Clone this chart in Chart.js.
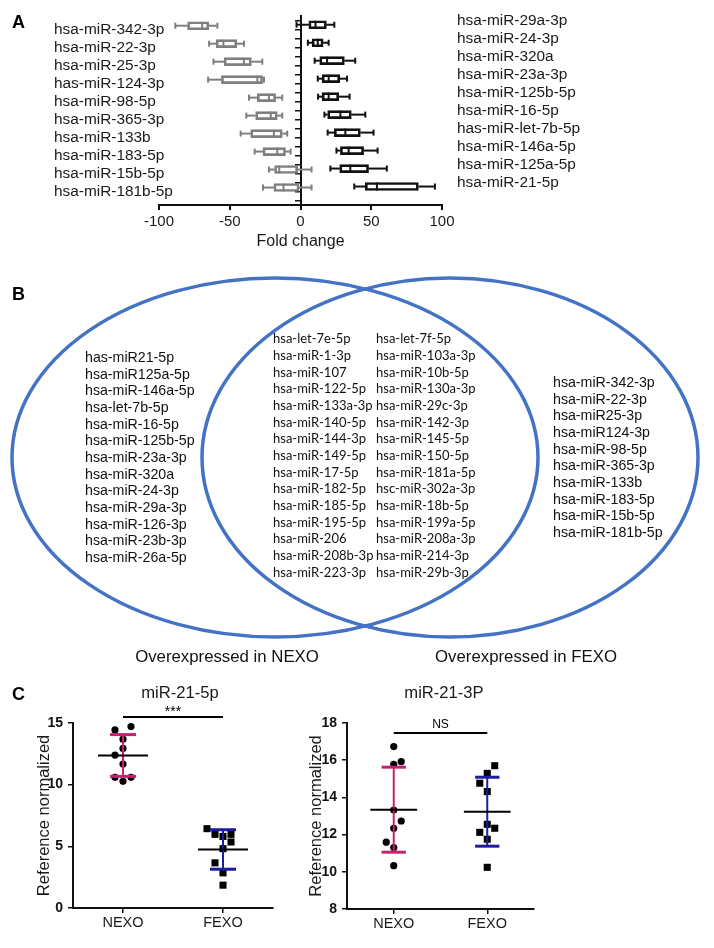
<!DOCTYPE html>
<html>
<head>
<meta charset="utf-8">
<title>miRNA fold change, overlap and validation</title>
<script src="https://cdn.jsdelivr.net/npm/chart.js@4.4.1/dist/chart.umd.min.js"></script>
<style>
  html, body { margin: 0; padding: 0; background: #fff; }
  body { position: relative; width: 714px; height: 948px; overflow: hidden; font-family: "Liberation Sans", Arial, sans-serif; }
  canvas { position: absolute; }
  .panel { position: absolute; left: 12px; font-size: 18px; font-weight: bold; line-height: 18px; color: #000; }
</style>
</head>
<body>
<canvas id="foldChart" width="714" height="252" style="left:0;top:0"></canvas>
<canvas id="vennChart" width="714" height="420" style="left:0;top:250px"></canvas>
<canvas id="mir5pChart" width="360" height="278" style="left:0;top:670px"></canvas>
<canvas id="mir3pChart" width="288" height="278" style="left:300px;top:670px"></canvas>
<div class="panel" style="top:13px">A</div>
<div class="panel" style="top:285px">B</div>
<div class="panel" style="top:685px">C</div>
<script>
// ---- A: fold change (box = q1..q3, whiskers = min..max)
var downNames = ["hsa-miR-342-3p", "hsa-miR-22-3p", "hsa-miR-25-3p", "has-miR-124-3p", "hsa-miR-98-5p",
                 "hsa-miR-365-3p", "hsa-miR-133b", "hsa-miR-183-5p", "hsa-miR-15b-5p", "hsa-miR-181b-5p"];
var downMin = [-88.5, -64.6, -61.5, -65.3, -36.4, -38.3, -42.3, -32.4, -22.3, -26.5];
var downQ1  = [-79.8, -59.6, -54.0, -55.9, -30.5, -31.7, -35.2, -26.5, -18.3, -18.8];
var downMed = [-69.5, -54.5, -40.0, -30.5, -22.3, -21.0, -18.8, -16.4, -15.0, -12.0];
var downQ3  = [-64.8, -45.0, -34.7, -26.8, -17.6, -16.4, -12.9, -10.6, -2.0, -1.0];
var downMax = [-58.7, -39.9, -27.0, -25.8, -12.9, -12.9, -9.4, -7.0, 7.8, 7.8];

var upNames = ["hsa-miR-29a-3p", "hsa-miR-24-3p", "hsa-miR-320a", "hsa-miR-23a-3p", "hsa-miR-125b-5p",
               "hsa-miR-16-5p", "has-miR-let-7b-5p", "hsa-miR-146a-5p", "hsa-miR-125a-5p", "hsa-miR-21-5p"];
var upMin = [-2.8, 5.2, 10.0, 12.2, 12.4, 16.9, 19.2, 25.4, 21.1, 38.0];
var upQ1  = [5.9, 8.2, 13.6, 15.3, 15.3, 19.2, 23.9, 28.2, 27.7, 45.8];
var upMed = [10.6, 12.2, 18.8, 19.9, 19.9, 28.2, 31.7, 34.0, 35.2, 54.0];
var upQ3  = [18.3, 16.0, 31.0, 27.7, 27.0, 35.9, 42.3, 44.6, 48.1, 83.3];
var upMax = [23.9, 19.9, 38.7, 32.9, 34.7, 45.8, 51.6, 54.5, 61.0, 95.0];

var foldTicks = [-100, -50, 0, 50, 100];

// ---- B: Venn lists
var nexoOnly = ["has-miR21-5p", "hsa-miR125a-5p", "hsa-miR-146a-5p", "hsa-let-7b-5p", "hsa-miR-16-5p",
                "hsa-miR-125b-5p", "hsa-miR-23a-3p", "hsa-miR-320a", "hsa-miR-24-3p", "hsa-miR-29a-3p",
                "hsa-miR-126-3p", "hsa-miR-23b-3p", "hsa-miR-26a-5p"];
var sharedA = ["hsa-let-7e-5p", "hsa-miR-1-3p", "hsa-miR-107", "hsa-miR-122-5p", "hsa-miR-133a-3p",
               "hsa-miR-140-5p", "hsa-miR-144-3p", "hsa-miR-149-5p", "hsa-miR-17-5p", "hsa-miR-182-5p",
               "hsa-miR-185-5p", "hsa-miR-195-5p", "hsa-miR-206", "hsa-miR-208b-3p", "hsa-miR-223-3p"];
var sharedB = ["hsa-let-7f-5p", "hsa-miR-103a-3p", "hsa-miR-10b-5p", "hsa-miR-130a-3p", "hsa-miR-29c-3p",
               "hsa-miR-142-3p", "hsa-miR-145-5p", "hsa-miR-150-5p", "hsa-miR-181a-5p", "hsc-miR-302a-3p",
               "hsa-miR-18b-5p", "hsa-miR-199a-5p", "hsa-miR-208a-3p", "hsa-miR-214-3p", "hsa-miR-29b-3p"];
var fexoOnly = ["hsa-miR-342-3p", "hsa-miR-22-3p", "hsa-miR25-3p", "hsa-miR124-3p", "hsa-miR-98-5p",
                "hsa-miR-365-3p", "hsa-miR-133b", "hsa-miR-183-5p", "hsa-miR-15b-5p", "hsa-miR-181b-5p"];

// ---- C: qPCR validation, one value per sample (lane = horizontal jitter slot)
var groupNames = ["NEXO", "FEXO"];
var nexo5p = [14.43, 14.70, 13.68, 12.93, 12.39, 11.67, 10.59, 10.27, 10.59];
var nexo5pLanes = [-1, 1, 0, 0, -1, 0, -1, 0, 1];
var fexo5p = [6.43, 5.97, 5.80, 5.97, 5.35, 4.81, 3.66, 2.85, 1.85];
var fexo5pLanes = [-2, -1, 0, 1, 1, 0, -1, 0, 0];
var nexo3p = [16.73, 15.78, 15.92, 13.32, 12.73, 12.34, 11.59, 11.30, 10.33];
var nexo3pLanes = [0, 0, 1, 0, 1, 0, -1, 0, 0];
var fexo3p = [15.70, 15.29, 14.76, 14.31, 12.55, 12.12, 12.34, 11.75, 10.24];
var fexo3pLanes = [1, 0, -1, 0, 0, -1, 1, 0, 0];

var FONT = '"Liberation Sans", Arial, sans-serif';
Chart.defaults.font.family = FONT;
Chart.defaults.color = "#1a1a1a";

var grey = "#7f7f7f";
var pink = "#c8206f";
var navy = "#1c1c9c";

// rows alternate: up-regulated on even slots, down-regulated on odd slots, one spare slot at the end
var rowCount = 21;
function rows(fill, start) {
  var out = [];
  for (var i = 0; i < rowCount; i++) out.push(null);
  for (var k = 0; k < 10; k++) out[start + 2 * k] = fill(k);
  return out;
}
function rowLabels(names, start) {
  return rows(function (k) { return names[k]; }, start).map(function (v) { return v == null ? "" : v; });
}

function line(ctx, x1, y1, x2, y2) {
  ctx.beginPath();
  ctx.moveTo(x1, y1);
  ctx.lineTo(x2, y2);
  ctx.stroke();
}

var whiskerPlugin = {
  id: "whiskers",
  afterDatasetsDraw: function (chart) {
    var ctx = chart.ctx, xs = chart.scales.x;
    chart.data.datasets.forEach(function (ds, di) {
      var meta = chart.getDatasetMeta(di);
      ctx.save();
      ctx.strokeStyle = ds.borderColor;
      ctx.lineWidth = 2;
      meta.data.forEach(function (bar, j) {
        var s = ds.stats[j];
        if (!s) return;
        var y = bar.y, h = bar.height / 2;
        var pMin = xs.getPixelForValue(s.min), pMax = xs.getPixelForValue(s.max);
        var pQ1 = xs.getPixelForValue(s.q1), pQ3 = xs.getPixelForValue(s.q3);
        line(ctx, pMin, y, pQ1, y);
        line(ctx, pQ3, y, pMax, y);
        line(ctx, pMin, y - 3, pMin, y + 3);
        line(ctx, pMax, y - 3, pMax, y + 3);
        var pMed = xs.getPixelForValue(s.med);
        line(ctx, pMed, y - h, pMed, y + h);
      });
      ctx.restore();
    });
  }
};

function boxStats(mins, q1s, meds, q3s, maxs) {
  return function (k) { return { min: mins[k], q1: q1s[k], med: meds[k], q3: q3s[k], max: maxs[k] }; };
}

new Chart(document.getElementById("foldChart"), {
  type: "bar",
  data: {
    datasets: [
      {
        label: "down",
        yAxisID: "yL",
        data: rows(function (k) { return [downQ1[k], downQ3[k]]; }, 1),
        stats: rows(boxStats(downMin, downQ1, downMed, downQ3, downMax), 1),
        borderColor: grey,
        backgroundColor: "rgba(0,0,0,0)",
        borderWidth: 2,
        borderSkipped: false,
        barThickness: 8
      },
      {
        label: "up",
        yAxisID: "yR",
        data: rows(function (k) { return [upQ1[k], upQ3[k]]; }, 0),
        stats: rows(boxStats(upMin, upQ1, upMed, upQ3, upMax), 0),
        borderColor: "#111",
        backgroundColor: "rgba(0,0,0,0)",
        borderWidth: 2,
        borderSkipped: false,
        barThickness: 8
      }
    ]
  },
  options: {
    indexAxis: "y",
    responsive: false,
    animation: false,
    events: [],
    layout: { padding: { left: 54, right: 12, top: 15, bottom: 0 } },
    plugins: { legend: { display: false }, tooltip: { enabled: false } },
    scales: {
      x: {
        type: "linear", position: "bottom", min: -100, max: 100,
        afterBuildTicks: function (s) { s.ticks = foldTicks.map(function (v) { return { value: v }; }); },
        ticks: { font: { size: 15 }, padding: 3, color: "#1a1a1a" },
        grid: { drawOnChartArea: false, tickLength: 5, color: "#111", lineWidth: 2 },
        border: { color: "#111", width: 2 },
        title: { display: true, text: "Fold change", font: { size: 16 }, padding: { top: 0, bottom: 1 }, color: "#1a1a1a" },
        afterFit: function (s) { s.height = 47; }
      },
      yL: {
        // mirrored so the long names may run past the axis box without being clipped
        type: "category", position: "left", offset: true,
        labels: rowLabels(downNames, 1),
        ticks: { autoSkip: false, mirror: true, padding: -105, font: { size: 15.4 }, color: "#1a1a1a" },
        grid: { display: false },
        border: { display: false },
        afterFit: function (s) { s.width = 105; }
      },
      yR: {
        type: "category", position: "right", offset: true,
        labels: rowLabels(upNames, 0),
        ticks: { autoSkip: false, padding: 7, font: { size: 15.4 }, color: "#1a1a1a" },
        grid: { display: false },
        border: { display: false },
        afterFit: function (s) { s.width = 260; }
      },
      yMid: {
        type: "category", axis: "y", position: { x: 0 }, offset: true,
        labels: rowLabels([], 0),
        ticks: { display: false },
        grid: { drawOnChartArea: false, offset: false, tickLength: 5, color: "#111", lineWidth: 1.5 },
        border: { color: "#111", width: 2 }
      }
    }
  },
  plugins: [whiskerPlugin]
});

// ---- B: Venn diagram drawn on hidden linear scales
var vennPlugin = {
  id: "venn",
  afterDraw: function (chart) {
    var ctx = chart.ctx, xs = chart.scales.x, ys = chart.scales.y;
    var o = chart.options.plugins.venn;
    ctx.save();
    ctx.strokeStyle = "#4472c4";
    ctx.lineWidth = 3.5;
    o.sets.forEach(function (s) {
      var cx = xs.getPixelForValue(s.cx), cy = ys.getPixelForValue(s.cy);
      var rx = Math.abs(xs.getPixelForValue(s.cx + s.rx) - cx);
      var ry = Math.abs(ys.getPixelForValue(s.cy + s.ry) - cy);
      ctx.beginPath();
      ctx.ellipse(cx, cy, rx, ry, 0, 0, 2 * Math.PI);
      ctx.stroke();
    });
    ctx.fillStyle = "#111";
    ctx.textBaseline = "middle";
    ctx.textAlign = "left";
    o.columns.forEach(function (c) {
      ctx.font = c.font;
      c.names.forEach(function (n, i) {
        ctx.fillText(n, xs.getPixelForValue(c.x), ys.getPixelForValue(c.y + i * o.lineGap));
      });
    });
    ctx.textAlign = "center";
    ctx.font = "16.8px " + FONT;
    o.captions.forEach(function (c) {
      ctx.fillText(c.text, xs.getPixelForValue(c.x), ys.getPixelForValue(c.y));
    });
    ctx.restore();
  }
};

new Chart(document.getElementById("vennChart"), {
  type: "scatter",
  data: { datasets: [] },
  options: {
    responsive: false,
    animation: false,
    events: [],
    layout: { padding: 0 },
    plugins: {
      legend: { display: false },
      tooltip: { enabled: false },
      venn: {
        sets: [
          { cx: 275, cy: 207.5, rx: 263, ry: 179.5 },
          { cx: 450, cy: 207.5, rx: 248, ry: 179.5 }
        ],
        lineGap: 16.67,
        columns: [
          { names: nexoOnly, x: 85, y: 108, font: "14.2px " + FONT },
          { names: sharedA, x: 273, y: 89, font: "13px Lato, sans-serif" },
          { names: sharedB, x: 376, y: 89, font: "13px Lato, sans-serif" },
          { names: fexoOnly, x: 553, y: 133, font: "14.2px " + FONT }
        ],
        captions: [
          { text: "Overexpressed in NEXO", x: 227, y: 407 },
          { text: "Overexpressed in FEXO", x: 526, y: 407 }
        ]
      }
    },
    scales: {
      x: { type: "linear", min: 0, max: 714, display: false },
      y: { type: "linear", min: 0, max: 420, reverse: true, display: false }
    }
  },
  plugins: [vennPlugin]
});

// ---- C: dot plots with mean and SD
var laneStep = 0.08;

function mean(a) {
  return a.reduce(function (s, v) { return s + v; }, 0) / a.length;
}
function sd(a) {
  var m = mean(a);
  return Math.sqrt(a.reduce(function (s, v) { return s + (v - m) * (v - m); }, 0) / (a.length - 1));
}

function meanSdPlugin(groups, sig) {
  return {
    id: "meanSd",
    afterDatasetsDraw: function (chart) {
      var ctx = chart.ctx, xs = chart.scales.x, ys = chart.scales.y;
      var w = xs.getPixelForValue(1) - xs.getPixelForValue(0);
      ctx.save();
      groups.forEach(function (g, k) {
        var m = mean(g.values), s = sd(g.values);
        var cx = xs.getPixelForValue(k);
        var top = ys.getPixelForValue(m + s), bot = ys.getPixelForValue(m - s), my = ys.getPixelForValue(m);
        ctx.strokeStyle = g.color;
        ctx.lineWidth = 2;
        line(ctx, cx, top, cx, bot);
        ctx.lineWidth = 3;
        line(ctx, cx - 0.13 * w, top, cx + 0.13 * w, top);
        line(ctx, cx - 0.13 * w, bot, cx + 0.13 * w, bot);
        ctx.strokeStyle = "#000";
        ctx.lineWidth = 2;
        line(ctx, cx - 0.25 * w, my, cx + 0.25 * w, my);
      });
      var x0 = xs.getPixelForValue(0), x1 = xs.getPixelForValue(1), sy = ys.getPixelForValue(sig.y);
      ctx.strokeStyle = "#000";
      ctx.lineWidth = 2;
      line(ctx, x0, sy, x1, sy);
      ctx.fillStyle = "#000";
      ctx.font = sig.size + "px " + FONT;
      ctx.textAlign = "center";
      ctx.textBaseline = "alphabetic";
      ctx.fillText(sig.text, (x0 + x1) / 2, sy - sig.gap);
      ctx.restore();
    }
  };
}

// frame: y axis width, y title inset, empty gutter on the right (keeps the title centred like the figure)
function dotChart(canvasId, title, groups, yMin, yMax, yStep, sig, frame) {
  var datasets = groups.map(function (g, k) {
    return {
      label: g.name,
      data: g.values.map(function (v, i) { return { x: k + g.lanes[i] * laneStep, y: v }; }),
      pointStyle: g.marker,
      pointRadius: g.marker === "rect" ? 5 : 3.6,
      backgroundColor: "#000",
      borderColor: "#000",
      borderWidth: 0
    };
  });
  return new Chart(document.getElementById(canvasId), {
    type: "scatter",
    data: { datasets: datasets },
    options: {
      responsive: false,
      animation: false,
      events: [],
      layout: { padding: 0 },
      plugins: {
        legend: { display: false },
        tooltip: { enabled: false },
        title: {
          display: true, text: title, color: "#1a1a1a",
          font: { size: 16.6, weight: "normal" },
          padding: { top: 13, bottom: 20 }
        }
      },
      scales: {
        x: {
          type: "linear", min: -0.5, max: 1.5,
          afterBuildTicks: function (s) { s.ticks = [{ value: 0 }, { value: 1 }]; },
          ticks: { callback: function (v) { return groups[v].name; }, font: { size: 14.5 }, padding: 1, color: "#1a1a1a" },
          grid: { drawOnChartArea: false, tickLength: 5, color: "#111", lineWidth: 1.5 },
          border: { color: "#111", width: 2 },
          afterFit: function (s) { s.height = frame.bottom; }
        },
        y: {
          type: "linear", min: yMin, max: yMax,
          ticks: { stepSize: yStep, font: { size: 14, weight: "bold" }, padding: 5, color: "#111" },
          grid: { drawOnChartArea: false, tickLength: 5, color: "#111", lineWidth: 1.5 },
          border: { color: "#111", width: 2 },
          title: { display: true, text: "Reference normalized", font: { size: 16.5 }, padding: { top: frame.titleInset, bottom: 0 }, color: "#1a1a1a" },
          afterFit: function (s) { s.width = frame.axis; }
        },
        gutter: {
          type: "linear", axis: "y", position: "right",
          ticks: { display: false },
          grid: { display: false },
          border: { display: false },
          afterFit: function (s) { s.width = frame.gutter; }
        }
      }
    },
    plugins: [meanSdPlugin(groups, sig)]
  });
}

dotChart("mir5pChart", "miR-21-5p", [
  { name: groupNames[0], values: nexo5p, lanes: nexo5pLanes, marker: "circle", color: pink },
  { name: groupNames[1], values: fexo5p, lanes: fexo5pLanes, marker: "rect", color: navy }
], 0, 15, 5, { y: 15.48, text: "***", size: 14, gap: 1 }, { axis: 73, titleInset: 35, gutter: 87, bottom: 40 });

dotChart("mir3pChart", "miR-21-3P", [
  { name: groupNames[0], values: nexo3p, lanes: nexo3pLanes, marker: "circle", color: pink },
  { name: groupNames[1], values: fexo3p, lanes: fexo3pLanes, marker: "rect", color: navy }
], 8, 18, 2, { y: 17.46, text: "NS", size: 12, gap: 4.5 }, { axis: 47, titleInset: 7, gutter: 54, bottom: 39 });
</script>
</body>
</html>
